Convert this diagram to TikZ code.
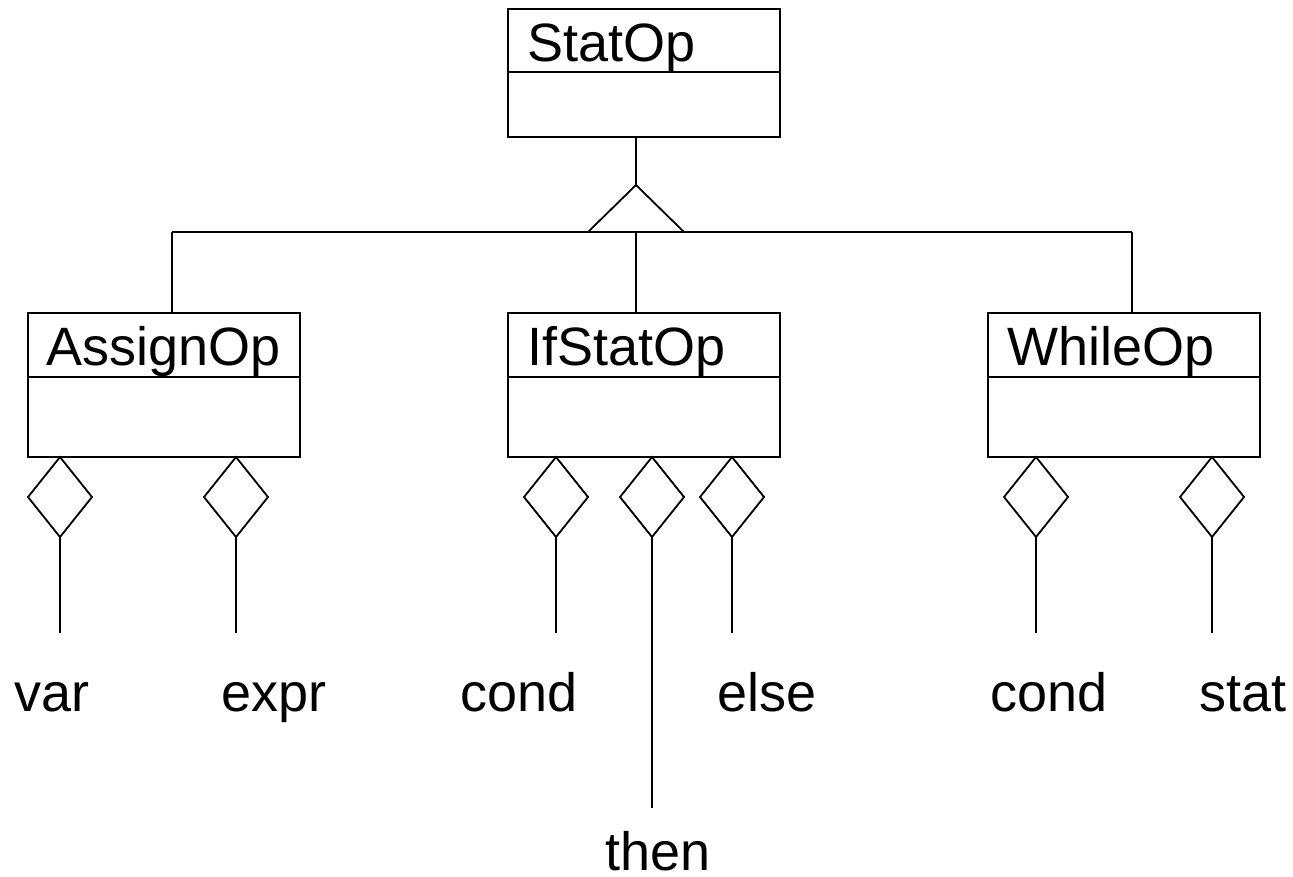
\documentclass[tikz,border=0pt]{standalone}
\usepackage{fontspec}
\setmainfont{Liberation Sans}
\begin{document}
\begin{tikzpicture}[x=1pt,y=-1pt,
  classbox/.style={draw,line width=2.2pt,minimum width=272pt,minimum height=144pt,inner sep=0pt},
  title/.style={anchor=base west,inner sep=0pt,font=\fontsize{54}{62}\selectfont},
  lbl/.style={anchor=base west,inner sep=0pt,font=\fontsize{54}{62}\selectfont},
  conn/.style={line width=1.8pt},
  agg/.style={line width=1.8pt,fill=white}]
\useasboundingbox (0,0) rectangle (1293,876);

% class boxes
\node[classbox,minimum height=128pt] (stat) at (644,73) {};
\node[classbox] (assign) at (164,385) {};
\node[classbox] (ifst) at (644,385) {};
\node[classbox] (while) at (1124,385) {};

% compartment dividers
\draw[line width=2pt] (stat.west |- 0,72) -- (stat.east |- 0,72);
\foreach \b in {assign,ifst,while}
  \draw[line width=2pt] (\b.west |- 0,377) -- (\b.east |- 0,377);

% class names
\node[title] at (527,61) {StatOp};
\node[title] at (46,365) {AssignOp};
\node[title] at (527,365) {IfStatOp};
\node[title] at (1007,365) {WhileOp};

% generalization
\coordinate (apex) at (636,185);
\coordinate (bl) at (588,232);
\coordinate (br) at (684,232);
\coordinate (busL) at (172,232);
\coordinate (busR) at (1132,232);
\draw[conn] (stat.south -| apex) -- (apex);
\draw[conn] (bl) -- (apex) -- (br);
\draw[conn] (busL) -- (busR);
\draw[conn] (busL) -- (assign.north -| busL);
\draw[conn] (ifst.north -| apex) -- (0,232 -| apex);
\draw[conn] (busR) -- (while.north -| busR);

% aggregation diamonds with their role lines
\foreach \x/\n/\e in {60/a1/633, 236/a2/633, 556/i1/633, 652/i2/808, 732/i3/633, 1036/w1/633, 1212/w2/633} {
  \coordinate (\n top) at (\x,457);
  \coordinate (\n bot) at (\x,537);
  \coordinate (\n end) at (\x,\e);
  \draw[agg] (\n top) -- (\x+32,497) -- (\n bot) -- (\x-32,497) -- cycle;
  \draw[conn] (\n bot) -- (\n end);
}

% role names
\node[lbl] (lvar) at (14,711) {var};
\node[lbl] (lexpr) at (221,711) {expr};
\node[lbl] (lcond1) at (460,711) {cond};
\node[lbl] (lelse) at (717,711) {else};
\node[lbl] (lcond2) at (990,711) {cond};
\node[lbl] (lstat) at (1199,711) {stat};
\node[lbl] (lthen) at (605,870) {then};
\end{tikzpicture}
\end{document}
